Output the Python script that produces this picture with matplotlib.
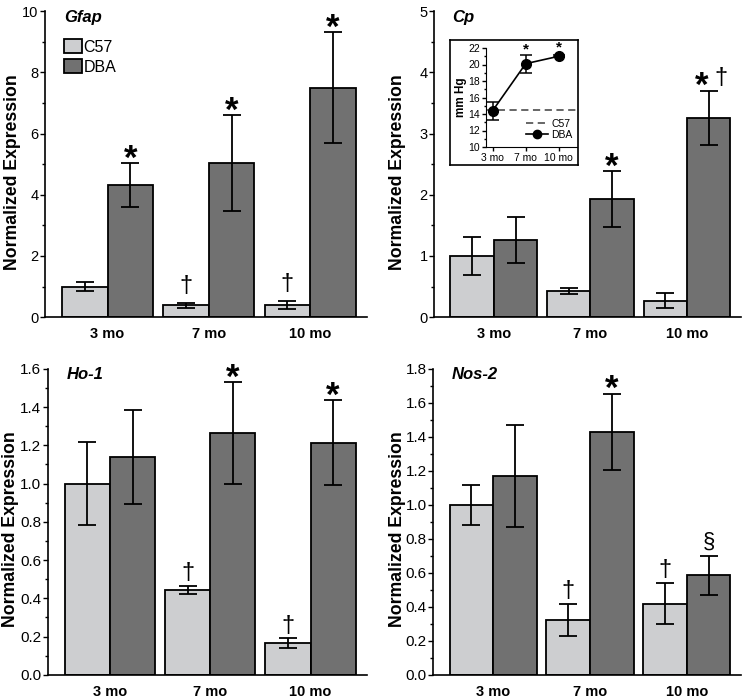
import numpy as np
import matplotlib.pyplot as plt
from matplotlib.ticker import MultipleLocator, FormatStrFormatter
from matplotlib.patches import Patch
from matplotlib.lines import Line2D

plt.rcParams['font.family'] = ['Liberation Sans', 'DejaVu Sans']

# data
ages = ['3 mo', '7 mo', '10 mo']

gfap_c57 = [1.00, 0.38, 0.40]
gfap_c57_err = [0.14, 0.09, 0.13]
gfap_dba = [4.32, 5.04, 7.50]
gfap_dba_err = [0.72, 1.57, 1.82]

cp_c57 = [1.00, 0.43, 0.27]
cp_c57_err = [0.31, 0.05, 0.12]
cp_dba = [1.26, 1.93, 3.26]
cp_dba_err = [0.37, 0.45, 0.44]

ho1_c57 = [1.00, 0.445, 0.166]
ho1_c57_err = [0.218, 0.022, 0.024]
ho1_dba = [1.138, 1.264, 1.213]
ho1_dba_err = [0.245, 0.268, 0.222]

nos2_c57 = [1.00, 0.324, 0.418]
nos2_c57_err = [0.118, 0.095, 0.12]
nos2_dba = [1.168, 1.43, 0.585]
nos2_dba_err = [0.299, 0.225, 0.115]

# significance marks per bar
gfap_marks = [['', '†', '†'], ['*', '*', '*']]
cp_marks = [['', '', ''], ['', '*', '*†']]
ho1_marks = [['', '†', '†'], ['', '*', '*']]
nos2_marks = [['', '†', '†'], ['', '*', '§']]

# inset: intraocular pressure
iop_dba = [14.4, 20.1, 21.0]
iop_dba_err = [1.1, 1.1, 0.15]
iop_c57 = 14.5
iop_marks = ['', '*', '*']

light = '#cdced0'
dark = '#717171'
w = 0.45


def draw_mark(ax, x, y, sym, dag_dy):
    star = dict(ha='center', va='baseline', fontsize=25, fontweight='bold',
                textcoords='offset points')
    dag = dict(ha='center', va='baseline', fontsize=17, textcoords='offset points')
    if sym == '*':
        ax.annotate('*', (x, y), xytext=(0, -4), **star)
    elif sym == '†':
        ax.annotate('†', (x, y), xytext=(0, dag_dy), **dag)
    elif sym == '§':
        ax.annotate('§', (x, y), xytext=(0, 6), ha='center', va='baseline',
                    fontsize=16, textcoords='offset points')
    elif sym == '*†':
        ax.annotate('*', (x, y), xytext=(-5, -4), **star)
        ax.annotate('†', (x, y), xytext=(9, 5), **dag)


def panel(rect, c57, c57_err, dba, dba_err, marks, title, ymax, major, minor, fmt,
          tsize, dag_dy, label_x):
    ax = fig.add_axes(rect)
    x = np.arange(len(ages))
    ekw = dict(elinewidth=1.3, capthick=1.3, capsize=6.5, ecolor='black')
    ax.bar(x - w / 2, c57, w, yerr=c57_err, color=light, edgecolor='black',
           linewidth=1.3, error_kw=ekw, label='C57')
    ax.bar(x + w / 2, dba, w, yerr=dba_err, color=dark, edgecolor='black',
           linewidth=1.3, error_kw=ekw, label='DBA')
    for i in range(len(ages)):
        draw_mark(ax, x[i] - w / 2, c57[i] + c57_err[i], marks[0][i], dag_dy)
        draw_mark(ax, x[i] + w / 2, dba[i] + dba_err[i], marks[1][i], dag_dy)
    ax.set_xlim(-0.62, 2.56)
    ax.set_ylim(0, ymax)
    ax.yaxis.set_major_locator(MultipleLocator(major))
    ax.yaxis.set_minor_locator(MultipleLocator(minor))
    ax.yaxis.set_major_formatter(FormatStrFormatter(fmt))
    ax.set_xticks(x)
    ax.set_xticklabels(ages, fontweight='bold', fontsize=10.5)
    ax.tick_params(axis='x', length=0, pad=7)
    ax.tick_params(axis='y', which='major', length=3.6, width=1, labelsize=tsize, pad=1)
    ax.tick_params(axis='y', which='minor', length=2.2, width=1)
    for s in ['top', 'right']:
        ax.spines[s].set_visible(False)
    for s in ['left', 'bottom']:
        ax.spines[s].set_linewidth(1.2)
    ax.set_ylabel('Normalized Expression', fontsize=12.7, fontweight='bold')
    ax.yaxis.set_label_coords(label_x, 0.475)
    ax.text(0.06, 1.005, title, transform=ax.transAxes, fontsize=12,
            fontweight='bold', fontstyle='italic', va='top', ha='left')
    return ax


fig = plt.figure(figsize=(7.47, 7.0), dpi=100)

ax1 = panel([0.060, 0.547, 0.431, 0.437], gfap_c57, gfap_c57_err, gfap_dba, gfap_dba_err,
            gfap_marks, 'Gfap', 10, 2, 1, '%d', 10.5, 8, -0.075)
ax1.legend(handles=[Patch(facecolor=light, edgecolor='black', linewidth=1.3, label='C57'),
                    Patch(facecolor=dark, edgecolor='black', linewidth=1.3, label='DBA')],
           loc='upper left', bbox_to_anchor=(0.04, 0.93), frameon=False, fontsize=11.5,
           handlelength=1.1, handleheight=1.0, handletextpad=0.1, labelspacing=0.28,
           borderaxespad=0)

ax2 = panel([0.581, 0.547, 0.411, 0.437], cp_c57, cp_c57_err, cp_dba, cp_dba_err,
            cp_marks, 'Cp', 5, 1, 0.5, '%d', 10.5, 8, -0.091)

ax3 = panel([0.064, 0.036, 0.427, 0.437], ho1_c57, ho1_c57_err, ho1_dba, ho1_dba_err,
            ho1_marks, 'Ho-1', 1.6, 0.2, 0.1, '%.1f', 11, 5, -0.091)

ax4 = panel([0.580, 0.036, 0.412, 0.437], nos2_c57, nos2_c57_err, nos2_dba, nos2_dba_err,
            nos2_marks, 'Nos-2', 1.8, 0.2, 0.1, '%.1f', 11, 5, -0.088)

# inset frame
W, H = 747.0, 700.0
frame = fig.add_axes([450 / W, 1 - 165 / H, 128 / W, 125 / H])
frame.set_xticks([])
frame.set_yticks([])
for s in frame.spines.values():
    s.set_linewidth(1.2)

ins = fig.add_axes([486 / W, 1 - 147 / H, 91 / W, 99 / H])
ins.patch.set_alpha(0)
xi = np.arange(len(ages))
ins.axhline(iop_c57, color='#5a5a5a', linestyle=(0, (4, 2.5)), linewidth=1.3)
ins.errorbar(xi, iop_dba, yerr=iop_dba_err, color='black', marker='o', markersize=7,
             linewidth=1.2, capsize=4, elinewidth=1.1, capthick=1.1)
for i in range(len(ages)):
    if iop_marks[i]:
        ins.annotate(iop_marks[i], (xi[i], max(iop_dba[i] + iop_dba_err[i], iop_dba[i] + 0.4)),
                     xytext=(0, 1), textcoords='offset points', ha='center', va='baseline',
                     fontsize=11, fontweight='bold')
ins.set_xlim(-0.2, 2.55)
ins.set_ylim(10, 22)
ins.yaxis.set_major_locator(MultipleLocator(2))
ins.yaxis.set_minor_locator(MultipleLocator(1))
ins.set_xticks(xi)
ins.set_xticklabels(ages, fontsize=7.5)
ins.tick_params(axis='both', which='major', length=3, width=1, labelsize=7.5, pad=1.5)
ins.tick_params(axis='y', which='minor', length=1.8, width=1)
for s in ['top', 'right']:
    ins.spines[s].set_visible(False)
ins.set_ylabel('mm Hg', fontsize=8.5, fontweight='bold', labelpad=0.5)
ins.legend(handles=[Line2D([], [], color='#5a5a5a', linestyle=(0, (4, 2.5)), linewidth=1.3, label='C57'),
                    Line2D([], [], color='black', marker='o', markersize=6, linewidth=1.2, label='DBA')],
           loc='lower right', bbox_to_anchor=(1.0, 0.03), frameon=False, fontsize=7.5,
           handlelength=2.2, handletextpad=0.3, labelspacing=0.1, borderaxespad=0)

fig.savefig('out.png', dpi=100)
